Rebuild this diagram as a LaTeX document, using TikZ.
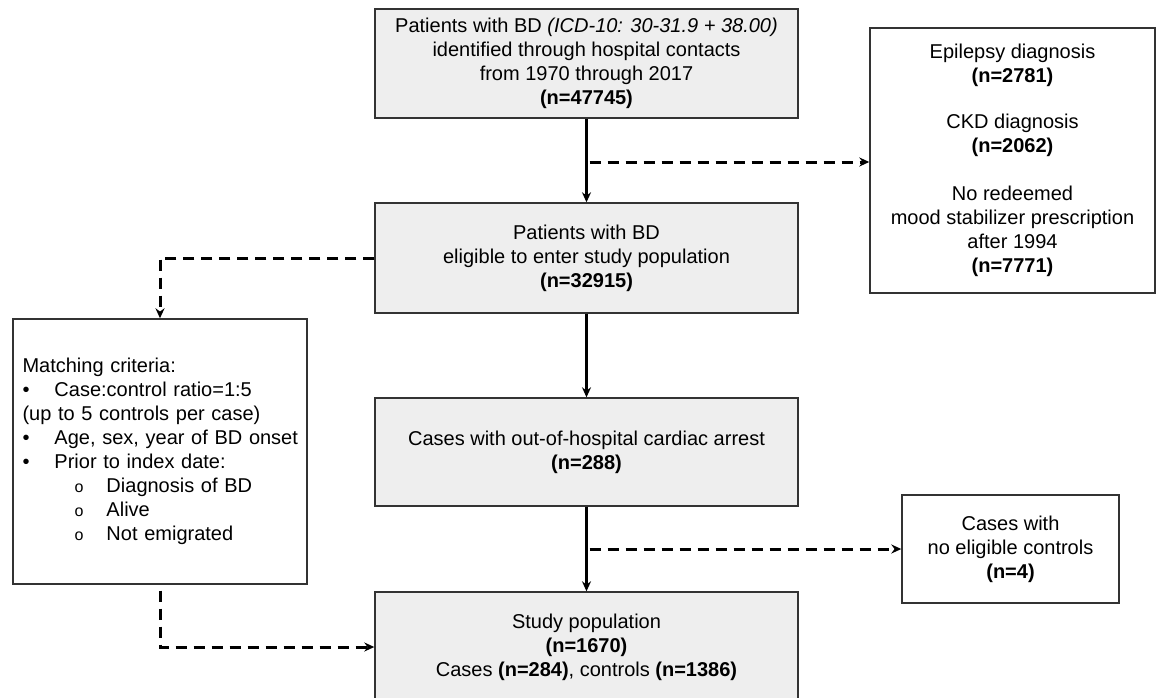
\documentclass[tikz,border=0pt]{standalone}
\usepackage{fontspec}
\setmainfont{Liberation Sans}
\usetikzlibrary{arrows.meta}
\begin{document}
\begin{tikzpicture}[x=1pt,y=-1pt,
  basebox/.style={draw=black!80, line width=1.4pt, inner sep=0pt, align=center,
    font=\fontsize{20}{24}\selectfont},
  graybox/.style={basebox, fill=gray!13, minimum width=423pt},
  whitebox/.style={basebox, fill=white},
  conn/.style={line width=2.5pt, -{Stealth[length=10pt,width=9pt]}},
  dconn/.style={line width=3pt, dash pattern=on 11pt off 7pt, -{Stealth[length=10pt,width=9pt]}}]
\useasboundingbox (0,0) rectangle (1156,698);
\clip (0,0) rectangle (1156,698);
\fill[white] (0,0) rectangle (1156,698);

\node[graybox, minimum height=109pt] (b1) at (586.5,63.5)
  {\raisebox{0pt}[0pt][0pt]{}Patients with BD \textit{(ICD-10: 30-31.9 + 38.00)}\\identified through hospital contacts\\from 1970 through 2017\\\textbf{(n=47745)}};
\node[graybox, minimum height=110pt] (b2) at (586.5,258)
  {Patients with BD\\eligible to enter study population\\\textbf{(n=32915)}};
\node[graybox, minimum height=108pt] (b3) at (586.5,452)
  {Cases with out-of-hospital cardiac arrest\\\textbf{(n=288)}};
\node[graybox, minimum height=110pt] (b4) at (586.5,647)
  {Study population\\\textbf{(n=1670)}\\Cases \textbf{(n=284)}, controls \textbf{(n=1386)}};

\node[whitebox, minimum width=285pt, minimum height=265pt] (e1) at (1012.5,160.5)
  {Epilepsy diagnosis\\\textbf{(n=2781)}\\[22pt]CKD diagnosis\\\textbf{(n=2062)}\\[24pt]No redeemed\\mood stabilizer prescription\\after 1994\\\textbf{(n=7771)}};
\node[whitebox, minimum width=217pt, minimum height=108pt] (e2) at (1010.5,549)
  {Cases with\\no eligible controls\\\textbf{(n=4)}};

\node[whitebox, minimum width=294pt, minimum height=265pt, text width=275pt, align=left] (m) at (160,451.5)
  {Matching criteria:\\
   \mbox{\makebox[32pt][l]{\textbullet}Case:control ratio=1:5}\\
   \mbox{(up to 5 controls per case)}\\
   \mbox{\makebox[32pt][l]{\textbullet}Age, sex, year of BD onset}\\
   \mbox{\makebox[32pt][l]{\textbullet}Prior to index date:}\\
   \mbox{\hspace*{52pt}\makebox[32pt][l]{\fontsize{16}{24}\selectfont o}Diagnosis of BD}\\
   \mbox{\hspace*{52pt}\makebox[32pt][l]{\fontsize{16}{24}\selectfont o}Alive}\\
   \mbox{\hspace*{52pt}\makebox[32pt][l]{\fontsize{16}{24}\selectfont o}Not emigrated}};

\coordinate (j1) at (586.5,162);
\coordinate (j3) at (586.5,549);

\draw[conn] (b1) -- (b2);
\draw[conn] (b2) -- (b3);
\draw[conn] (b3) -- (b4);
\draw[dconn] ([xshift=3pt]j1) -- (j1 -| e1.west);
\draw[dconn] ([xshift=3pt]j3) -- (j3 -| e2.west);
\draw[dconn] (b2.west) -| (m.north);
\draw[dconn] ([yshift=-6pt]m.south) |- (b4.west);
\end{tikzpicture}
\end{document}
